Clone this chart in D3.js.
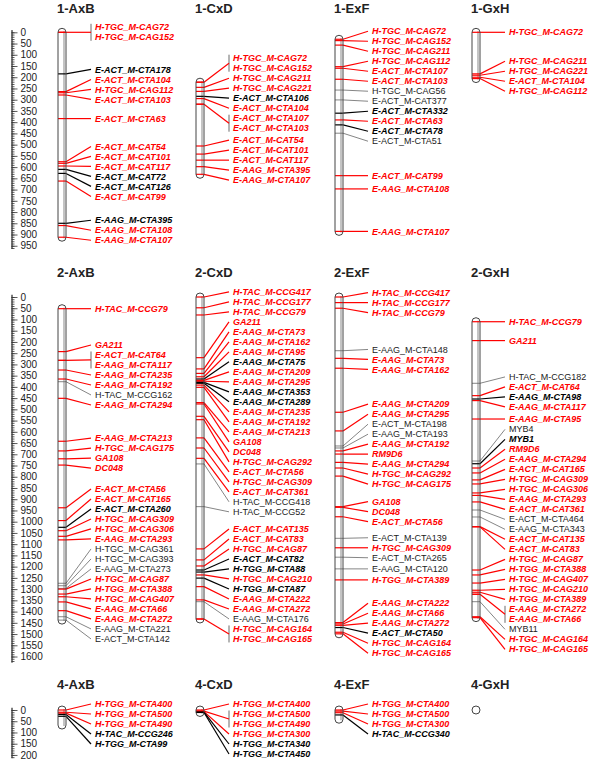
<!DOCTYPE html>
<html>
<head>
<meta charset="utf-8">
<script src="https://cdn.jsdelivr.net/npm/d3@7"></script>
<style>
  body { margin: 0; background: #fff; }
  svg { display: block; font-family: Arial, "Liberation Sans", sans-serif; }
</style>
</head>
<body>
<svg id="chart" width="600" height="767"></svg>
<script>
// ---- data: marker names, map positions, marker class (r = red bold, b = black bold, n = plain) ----
const titles = ["1-AxB", "1-CxD", "1-ExF", "1-GxH", "2-AxB", "2-CxD", "2-ExF", "2-GxH", "4-AxB", "4-CxD", "4-ExF", "4-GxH"];

const lg1AxB = ["H-TGC_M-CAG72", "H-TGC_M-CAG152", "E-ACT_M-CTA178", "E-ACT_M-CTA104", "H-TGC_M-CAG112", "E-ACT_M-CTA103", "E-ACT_M-CTA63", "E-ACT_M-CAT54", "E-ACT_M-CAT101", "E-ACT_M-CAT117", "E-ACT_M-CAT72", "E-ACT_M-CAT126", "E-ACT_M-CAT99", "E-AAG_M-CTA395", "E-AAG_M-CTA108", "E-AAG_M-CTA107"];
const lg1AxBPos = [0, 0, 185, 264, 269, 279, 384, 576, 583, 595, 610, 628, 662, 850, 860, 912];
const lg1AxBType = ["r", "r", "b", "r", "r", "r", "r", "r", "r", "r", "b", "b", "r", "b", "r", "r"];

const lg1CxD = ["H-TGC_M-CAG72", "H-TGC_M-CAG152", "H-TGC_M-CAG211", "H-TGC_M-CAG221", "E-ACT_M-CTA106", "E-ACT_M-CTA104", "E-ACT_M-CTA107", "E-ACT_M-CTA103", "E-ACT_M-CAT54", "E-ACT_M-CAT101", "E-ACT_M-CAT117", "E-AAG_M-CTA395", "E-AAG_M-CTA107"];
const lg1CxDPos = [222, 222, 245, 263, 285, 295, 320, 320, 506, 542, 569, 598, 632];
const lg1CxDType = ["r", "r", "r", "r", "b", "r", "r", "r", "r", "r", "r", "r", "r"];

const lg1ExF = ["H-TGC_M-CAG72", "H-TGC_M-CAG152", "H-TGC_M-CAG211", "H-TGC_M-CAG112", "E-ACT_M-CTA107", "E-ACT_M-CTA103", "H-TGC_M-CAG56", "E-ACT_M-CAT377", "E-ACT_M-CTA332", "E-ACT_M-CTA63", "E-ACT_M-CTA78", "E-ACT_M-CTA51", "E-ACT_M-CAT99", "E-AAG_M-CTA108", "E-AAG_M-CTA107"];
const lg1ExFPos = [31, 37, 57, 153, 160, 209, 257, 301, 360, 390, 412, 449, 638, 697, 886];
const lg1ExFType = ["r", "r", "r", "r", "r", "r", "n", "n", "b", "r", "b", "n", "r", "r", "r"];

const lg1GxH = ["H-TGC_M-CAG72", "H-TGC_M-CAG211", "H-TGC_M-CAG221", "E-ACT_M-CTA104", "H-TGC_M-CAG112"];
const lg1GxHPos = [0, 185, 191, 200, 206];
const lg1GxHType = ["r", "r", "r", "r", "r"];

const lg2AxB = ["H-TAC_M-CCG79", "GA211", "E-ACT_M-CAT64", "E-AAG_M-CTA117", "E-AAG_M-CTA235", "E-AAG_M-CTA192", "H-TAC_M-CCG162", "E-AAG_M-CTA294", "E-AAG_M-CTA213", "H-TGC_M-CAG175", "GA108", "DC048", "E-ACT_M-CTA56", "E-ACT_M-CAT165", "E-ACT_M-CTA260", "H-TGC_M-CAG309", "H-TGC_M-CAG306", "E-AAG_M-CTA293", "H-TGC_M-CAG361", "H-TGC_M-CAG393", "E-AAG_M-CTA273", "H-TGC_M-CAG87", "H-TGG_M-CTA388", "H-TGC_M-CAG407", "E-AAG_M-CTA66", "E-AAG_M-CTA272", "E-AAG_M-CTA221", "E-ACT_M-CTA142"];
const lg2AxBPos = [52, 243, 282, 282, 325, 365, 377, 451, 642, 685, 720, 748, 938, 995, 1025, 1040, 1065, 1081, 1274, 1285, 1297, 1300, 1322, 1334, 1357, 1396, 1423, 1438];
const lg2AxBType = ["r", "r", "r", "r", "r", "r", "n", "r", "r", "r", "r", "r", "r", "r", "b", "r", "r", "r", "n", "n", "n", "r", "r", "r", "r", "r", "n", "n"];

const lg2CxD = ["H-TAC_M-CCG417", "H-TAC_M-CCG177", "H-TAC_M-CCG79", "GA211", "E-AAG_M-CTA73", "E-AAG_M-CTA162", "E-AAG_M-CTA95", "E-AAG_M-CTA75", "E-AAG_M-CTA209", "E-AAG_M-CTA295", "E-AAG_M-CTA353", "E-AAG_M-CTA289", "E-AAG_M-CTA235", "E-AAG_M-CTA192", "E-AAG_M-CTA213", "GA108", "DC048", "H-TGC_M-CAG292", "E-ACT_M-CTA56", "H-TGC_M-CAG309", "E-ACT_M-CAT361", "H-TAC_M-CCG418", "H-TAC_M-CCG52", "E-ACT_M-CAT135", "E-ACT_M-CAT83", "H-TGC_M-CAG87", "E-ACT_M-CAT82", "H-TGG_M-CTA88", "H-TGC_M-CAG210", "H-TGG_M-CTA87", "E-AAG_M-CTA222", "E-AAG_M-CTA272", "E-AAG_M-CTA176", "H-TGC_M-CAG164", "H-TGC_M-CAG165"];
const lg2CxDPos = [0, 48, 80, 270, 320, 340, 355, 365, 371, 375, 380, 384, 392, 402, 470, 476, 531, 546, 627, 672, 718, 743, 933, 1121, 1170, 1197, 1215, 1224, 1237, 1251, 1289, 1348, 1356, 1433, 1433];
const lg2CxDType = ["r", "r", "r", "r", "r", "r", "r", "b", "r", "r", "b", "b", "r", "r", "r", "r", "r", "r", "r", "r", "r", "n", "n", "r", "r", "r", "b", "b", "r", "b", "r", "r", "n", "r", "r"];

const lg2ExF = ["H-TAC_M-CCG417", "H-TAC_M-CCG177", "H-TAC_M-CCG79", "E-AAG_M-CTA148", "E-AAG_M-CTA73", "E-AAG_M-CTA162", "E-AAG_M-CTA209", "E-AAG_M-CTA295", "E-ACT_M-CTA198", "E-AAG_M-CTA193", "E-AAG_M-CTA192", "RM9D6", "E-AAG_M-CTA294", "H-TGC_M-CAG292", "H-TGC_M-CAG175", "GA108", "DC048", "E-ACT_M-CTA56", "E-ACT_M-CTA139", "H-TGC_M-CAG309", "E-ACT_M-CTA265", "E-AAG_M-CTA120", "H-TGG_M-CTA389", "E-AAG_M-CTA222", "E-AAG_M-CTA66", "E-AAG_M-CTA272", "E-ACT_M-CTA50", "H-TGC_M-CAG164", "H-TGC_M-CAG165"];
const lg2ExFPos = [0, 25, 50, 239, 273, 317, 513, 596, 663, 672, 685, 699, 736, 761, 797, 933, 936, 978, 1074, 1116, 1158, 1210, 1259, 1449, 1455, 1461, 1471, 1492, 1499];
const lg2ExFType = ["r", "r", "r", "n", "r", "r", "r", "r", "n", "n", "r", "r", "r", "r", "r", "r", "r", "r", "n", "r", "n", "n", "r", "r", "r", "r", "b", "r", "r"];

const lg2GxH = ["H-TAC_M-CCG79", "GA211", "H-TAC_M-CCG182", "E-ACT_M-CAT64", "E-AAG_M-CTA98", "E-AAG_M-CTA117", "E-AAG_M-CTA95", "MYB4", "MYB1", "RM9D6", "E-AAG_M-CTA294", "E-ACT_M-CAT165", "H-TGC_M-CAG309", "H-TGC_M-CAG306", "E-AAG_M-CTA293", "E-ACT_M-CAT361", "E-ACT_M-CTA464", "E-AAG_M-CTA343", "E-ACT_M-CAT135", "E-ACT_M-CAT83", "H-TGC_M-CAG87", "H-TGG_M-CTA388", "H-TGC_M-CAG407", "H-TGC_M-CAG210", "H-TGG_M-CTA389", "E-AAG_M-CTA272", "E-AAG_M-CTA66", "MYB11", "H-TGC_M-CAG164", "H-TGC_M-CAG165"];
const lg2GxHPos = [110, 194, 384, 439, 454, 461, 543, 730, 742, 761, 783, 814, 832, 872, 883, 912, 948, 979, 1022, 1023, 1215, 1237, 1273, 1305, 1314, 1323, 1323, 1356, 1423, 1427];
const lg2GxHType = ["r", "r", "n", "r", "b", "r", "r", "n", "b", "r", "r", "r", "r", "r", "r", "r", "n", "n", "r", "r", "r", "r", "r", "r", "r", "r", "r", "n", "r", "r"];

const lg4AxB = ["H-TGG_M-CTA400", "H-TGG_M-CTA500", "H-TGG_M-CTA490", "H-TAC_M-CCG246", "H-TGG_M-CTA99"];
const lg4AxBPos = [0, 10, 14, 20, 28];
const lg4AxBType = ["r", "r", "r", "b", "b"];

const lg4CxD = ["H-TGG_M-CTA400", "H-TGG_M-CTA500", "H-TGG_M-CTA490", "H-TGG_M-CTA300", "H-TGG_M-CTA340", "H-TGG_M-CTA450"];
const lg4CxDPos = [0, 5, 5, 7, 9, 11];
const lg4CxDType = ["r", "r", "r", "r", "b", "b"];

const lg4ExF = ["H-TGG_M-CTA400", "H-TGG_M-CTA500", "H-TGG_M-CTA300", "H-TAC_M-CCG340"];
const lg4ExFPos = [0, 5, 12, 22];
const lg4ExFType = ["r", "r", "r", "b"];

const lg4GxH = [];
const lg4GxHPos = [];
const lg4GxHType = [];

// total length of each linkage group (where the bar ends)
const groupLengths = [912, 632, 886, 206, 1438, 1433, 1499, 1427, 67, 11, 41, 0];

// ruler tick labels per row
const rulerTicks = [d3.range(0, 951, 50), d3.range(0, 1601, 50), d3.range(0, 201, 50)];

const markerNames = [lg1AxB, lg1CxD, lg1ExF, lg1GxH, lg2AxB, lg2CxD, lg2ExF, lg2GxH, lg4AxB, lg4CxD, lg4ExF, lg4GxH];
const markerPos = [lg1AxBPos, lg1CxDPos, lg1ExFPos, lg1GxHPos, lg2AxBPos, lg2CxDPos, lg2ExFPos, lg2GxHPos, lg4AxBPos, lg4CxDPos, lg4ExFPos, lg4GxHPos];
const markerType = [lg1AxBType, lg1CxDType, lg1ExFType, lg1GxHType, lg2AxBType, lg2CxDType, lg2ExFType, lg2GxHType, lg4AxBType, lg4CxDType, lg4ExFType, lg4GxHType];

// ---- layout ----
const svg = d3.select("#chart");
const pxPerUnit = 0.2247;
const rows = [
  { zero: 32.3, titleY: 8.5, rulerEnd: 962 },
  { zero: 297, titleY: 272, rulerEnd: 1625 },
  { zero: 710, titleY: 684, rulerEnd: 212 },
];
const colLeft = [58, 196, 335, 472];
const barW = 8;
const labelGap = 10;
const textColor = { r: "#ff0000", b: "#000000", n: "#222222" };
const lineColor = { r: "#ff0000", b: "#000000", n: "#666666" };

// stack labels 10px apart, each overlapping cluster centred on its markers
function placeLabels(ys, minY) {
  let clusters = ys.map((v, i) => ({ i0: i, i1: i, lo: v, hi: v, top: Math.max(v, minY) }));
  let changed = true;
  while (changed) {
    changed = false;
    for (let k = 0; k < clusters.length - 1; k++) {
      const a = clusters[k], b = clusters[k + 1];
      const aEnd = a.top + (a.i1 - a.i0) * labelGap;
      if (b.top < aEnd + labelGap - 0.01) {
        const m = { i0: a.i0, i1: b.i1, lo: a.lo, hi: b.hi };
        m.top = Math.max((m.lo + m.hi) / 2 - ((m.i1 - m.i0) * labelGap) / 2, minY);
        clusters.splice(k, 2, m);
        changed = true;
        break;
      }
    }
  }
  const out = [];
  clusters.forEach((c) => {
    for (let i = c.i0; i <= c.i1; i++) out[i] = c.top + (i - c.i0) * labelGap;
  });
  return out;
}

rows.forEach((row, ri) => {
  const y = d3.scaleLinear().domain([0, 1000]).range([row.zero, row.zero + 1000 * pxPerUnit]);

  // ruler
  const rulerScale = d3.scaleLinear()
    .domain([-12, row.rulerEnd])
    .range([y(-12), y(row.rulerEnd)]);
  const rg = svg.append("g").attr("transform", "translate(11.5,0)");
  rg.append("g")
    .call(d3.axisRight(rulerScale).tickValues(d3.range(0, row.rulerEnd, 10)).tickSize(3).tickSizeOuter(0).tickFormat(""));
  rg.append("g")
    .call(d3.axisRight(rulerScale).tickValues(rulerTicks[ri]).tickSize(6).tickSizeOuter(0).tickPadding(3).tickFormat(d3.format("d")));
  rg.selectAll("path, line").attr("stroke", "#333").attr("stroke-width", 0.8);
  rg.selectAll("text").attr("font-size", 10).attr("font-family", "Arial, 'Liberation Sans', sans-serif").attr("fill", "#222");
  rg.selectAll("g").attr("font-family", null).attr("font-size", null);

  for (let col = 0; col < 4; col++) {
    const gi = ri * 4 + col;
    const names = markerNames[gi], pos = markerPos[gi], type = markerType[gi];
    const left = colLeft[col], right = left + barW;
    const labelX = left + 37, bx = labelX - 4;
    const g = svg.append("g");

    g.append("text")
      .attr("x", left - 1)
      .attr("y", row.titleY)
      .attr("dy", "0.35em")
      .attr("font-size", 13)
      .attr("font-weight", "bold")
      .attr("fill", "#222")
      .text(titles[gi]);

    const first = pos.length ? d3.min(pos) : 0;
    const last = Math.max(pos.length ? d3.max(pos) : 0, groupLengths[gi]);
    const top = y(first) - 4, bot = y(last) + 4;

    g.append("rect")
      .attr("x", left).attr("y", top)
      .attr("width", barW).attr("height", bot - top)
      .attr("rx", 4).attr("ry", 4)
      .attr("fill", "#fff");
    if (bot - top > 10) {
      g.append("line")
        .attr("x1", right - 2).attr("x2", right - 2)
        .attr("y1", top + 3).attr("y2", bot - 3)
        .attr("stroke", "#c4c4c4").attr("stroke-width", 2);
    }

    const ys = pos.map((p) => y(p));
    const ly = placeLabels(ys, row.zero - 6);

    // marker lines across the bar
    g.selectAll(".mk")
      .data(pos)
      .join("line")
      .attr("x1", left).attr("x2", right)
      .attr("y1", (d) => y(d)).attr("y2", (d) => y(d))
      .attr("stroke", (d, i) => lineColor[type[i]])
      .attr("stroke-width", (d, i) => (type[i] === "n" ? 0.8 : 1.2));

    // connectors, with a bracket for markers sharing one position
    let i = 0;
    while (i < pos.length) {
      let j = i;
      while (j + 1 < pos.length && pos[j + 1] === pos[i]) j++;
      const t = type[i];
      if (j > i) {
        g.append("line")
          .attr("x1", bx).attr("x2", bx)
          .attr("y1", ly[i] - 3.5).attr("y2", ly[j] + 3.5)
          .attr("stroke", "#444").attr("stroke-width", 0.8);
        g.append("line")
          .attr("x1", right).attr("y1", ys[i])
          .attr("x2", bx).attr("y2", (ly[i] + ly[j]) / 2)
          .attr("stroke", lineColor[t]).attr("stroke-width", t === "n" ? 0.8 : 1.2);
      } else {
        g.append("line")
          .attr("x1", right).attr("y1", ys[i])
          .attr("x2", bx).attr("y2", ly[i])
          .attr("stroke", lineColor[t]).attr("stroke-width", t === "n" ? 0.8 : 1.2);
      }
      i = j + 1;
    }

    g.append("rect")
      .attr("x", left).attr("y", top)
      .attr("width", barW).attr("height", bot - top)
      .attr("rx", 4).attr("ry", 4)
      .attr("fill", "none")
      .attr("stroke", "#444").attr("stroke-width", 1);

    g.selectAll(".lb")
      .data(names)
      .join("text")
      .attr("x", labelX)
      .attr("y", (d, k) => ly[k])
      .attr("dy", "0.35em")
      .attr("font-size", 9)
      .attr("font-weight", (d, k) => (type[k] === "n" ? "normal" : "bold"))
      .attr("font-style", (d, k) => (type[k] === "n" ? "normal" : "italic"))
      .attr("fill", (d, k) => textColor[type[k]])
      .text((d) => d);
  }
});
</script>
</body>
</html>
